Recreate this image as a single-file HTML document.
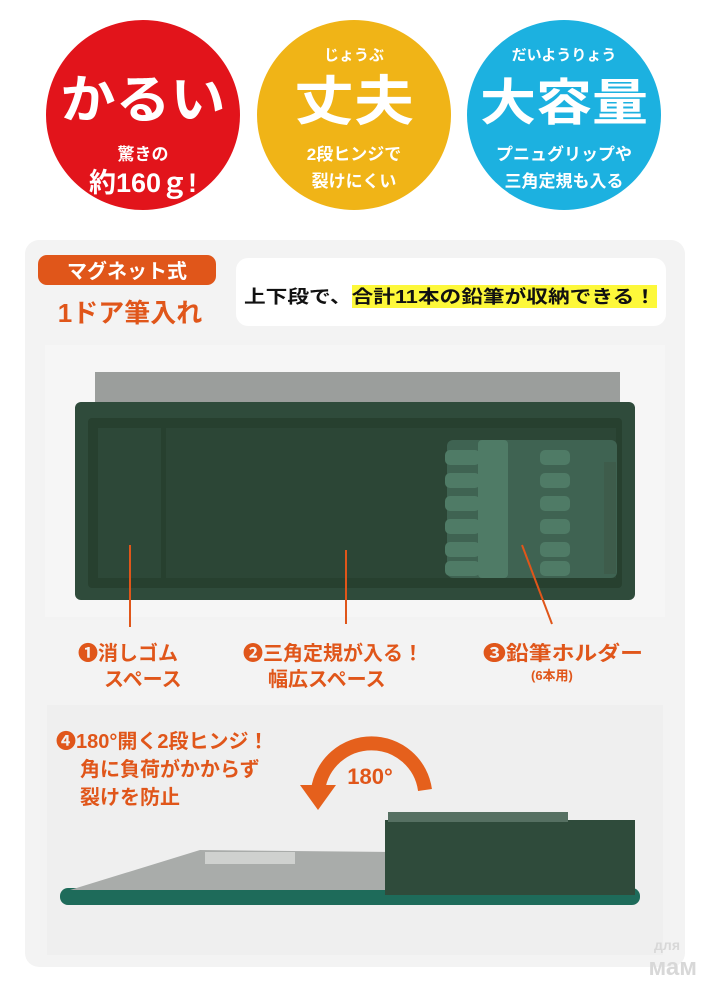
<!DOCTYPE html>
<html><head><meta charset="utf-8"><style>
body{margin:0;width:710px;height:987px;background:#fff;overflow:hidden;font-family:"Liberation Sans","Noto Sans CJK JP",sans-serif;}
svg text{font-family:"Liberation Sans","Noto Sans CJK JP",sans-serif;font-weight:bold;}
</style></head><body>
<svg width="710" height="987" viewBox="0 0 710 987" xmlns="http://www.w3.org/2000/svg">
<rect width="710" height="987" fill="#fff"/>
<ellipse cx="143" cy="115" rx="97" ry="95" fill="#e2141b"/>
<ellipse cx="354" cy="115" rx="97" ry="95" fill="#f0b417"/>
<ellipse cx="564" cy="115" rx="97" ry="95" fill="#1cb1e0"/>
<g fill="#fff" text-anchor="middle">
<text x="143" y="118" font-size="52" textLength="165" lengthAdjust="spacingAndGlyphs">かるい</text>
<text x="143" y="160" font-size="17">驚きの</text>
<text x="143" y="192" font-size="27">約160ｇ!</text>
<text x="354" y="60" font-size="15">じょうぶ</text>
<text x="354" y="120" font-size="54" textLength="120" lengthAdjust="spacingAndGlyphs">丈夫</text>
<text x="354" y="160" font-size="17">2段ヒンジで</text>
<text x="354" y="187" font-size="17">裂けにくい</text>
<text x="564" y="60" font-size="15">だいようりょう</text>
<text x="564" y="120" font-size="50" textLength="168" lengthAdjust="spacingAndGlyphs">大容量</text>
<text x="564" y="160" font-size="17">プニュグリップや</text>
<text x="564" y="187" font-size="17">三角定規も入る</text>
</g>
<rect x="25" y="240" width="660" height="727" rx="14" fill="#f3f3f3"/>
<rect x="38" y="255" width="178" height="30" rx="9" fill="#e0561a"/>
<text x="127" y="278" font-size="20" fill="#fff" text-anchor="middle" font-weight="normal">マグネット式</text>
<text x="130" y="322" font-size="26" fill="#e0561a" text-anchor="middle">1ドア筆入れ</text>
<rect x="236" y="258" width="430" height="68" rx="12" fill="#fff"/>
<rect x="352" y="285" width="305" height="23" fill="#fdf83a"/>
<text x="244" y="303" font-size="18" fill="#111" textLength="412" lengthAdjust="spacingAndGlyphs">上下段で、合計11本の鉛筆が収納できる！</text>
<rect x="45" y="345" width="620" height="272" fill="#f6f6f6"/>
<rect x="95" y="372" width="525" height="40" fill="#9b9e9c"/>
<rect x="75" y="402" width="560" height="198" rx="6" fill="#2f4b3b"/>
<rect x="88" y="418" width="534" height="170" rx="4" fill="#27402f"/>
<rect x="98" y="428" width="63" height="150" fill="#2d4838"/>
<rect x="166" y="428" width="450" height="150" fill="#2c4636"/>
<rect x="447" y="440" width="170" height="138" rx="6" fill="#3f6352"/>
<g fill="#4f7b66">
<rect x="445" y="450" width="35" height="15" rx="5"/><rect x="445" y="473" width="35" height="15" rx="5"/><rect x="445" y="496" width="35" height="15" rx="5"/><rect x="445" y="519" width="35" height="15" rx="5"/><rect x="445" y="542" width="35" height="15" rx="5"/><rect x="445" y="561" width="35" height="15" rx="5"/>
<rect x="478" y="440" width="30" height="138" rx="4"/>
<rect x="540" y="450" width="30" height="15" rx="5"/><rect x="540" y="473" width="30" height="15" rx="5"/><rect x="540" y="496" width="30" height="15" rx="5"/><rect x="540" y="519" width="30" height="15" rx="5"/><rect x="540" y="542" width="30" height="15" rx="5"/><rect x="540" y="561" width="30" height="15" rx="5"/>
</g>
<rect x="604" y="462" width="12" height="112" fill="#3e5c4b"/>
<g stroke="#e0561a" stroke-width="2">
<line x1="130" y1="545" x2="130" y2="627"/>
<line x1="346" y1="550" x2="346" y2="624"/>
<line x1="522" y1="545" x2="552" y2="624"/>
</g>
<g fill="#e0561a">
<text x="78" y="660" font-size="20">❶消しゴム</text>
<text x="104" y="686" font-size="20">スペース</text>
<text x="243" y="660" font-size="20">❷三角定規が入る！</text>
<text x="268" y="686" font-size="20">幅広スペース</text>
<text x="483" y="660" font-size="20" textLength="160" lengthAdjust="spacingAndGlyphs">❸鉛筆ホルダー</text>
<text x="531" y="680" font-size="13">(6本用)</text>
</g>
<rect x="47" y="705" width="616" height="250" fill="#efefef"/>
<g fill="#e0561a">
<text x="56" y="748" font-size="20">❹180°開く2段ヒンジ！</text>
<text x="80" y="776" font-size="20">角に負荷がかからず</text>
<text x="80" y="804" font-size="20">裂けを防止</text>
</g>
<path d="M318 790 A54 54 0 0 1 425 790" fill="none" stroke="#e5601c" stroke-width="14"/>
<polygon points="300,785 336,785 318,810" fill="#e5601c"/>
<text x="370" y="784" font-size="22" fill="#e0561a" text-anchor="middle" font-weight="normal">180°</text>
<rect x="60" y="888" width="580" height="17" rx="8" fill="#1e6b5a"/>
<polygon points="70,890 200,850 390,852 395,890" fill="#a9acaa"/>
<rect x="205" y="852" width="90" height="12" fill="#cfd1cf"/>
<rect x="385" y="820" width="250" height="75" fill="#2f4b3b"/>
<rect x="388" y="812" width="180" height="10" fill="#567062"/>
<text x="680" y="950" font-size="14" fill="#d8d8d8" text-anchor="end">для</text>
<text x="697" y="975" font-size="24" fill="#d8d8d8" text-anchor="end">мам</text>
</svg>
</body></html>
